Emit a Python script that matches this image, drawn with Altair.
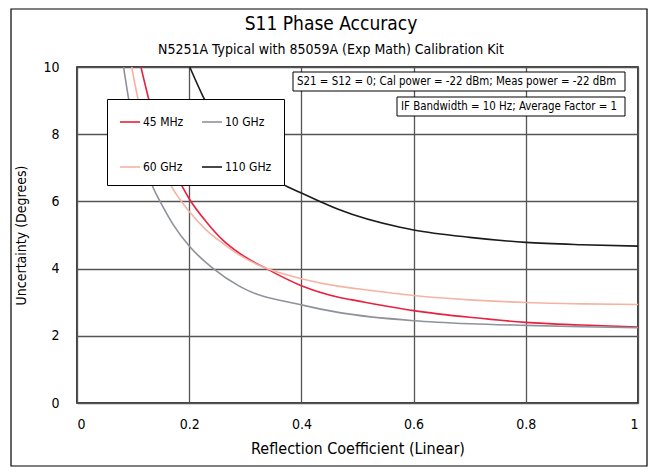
import altair as alt
import pandas as pd

# ---- data ----
series_names = ["45 MHz", "60 GHz", "10 GHz", "110 GHz"]
series_colors = ["#e8213f", "#f6b3a3", "#8e9299", "#1b1b1b"]

x_45mhz = [0.114, 0.127, 0.189, 0.20, 0.231, 0.2605, 0.29, 0.3376, 0.40, 0.468, 0.50, 0.60, 0.70, 0.80, 0.90, 1.00]
y_45mhz = [10.0, 9.1, 6.40, 6.08, 5.38, 4.84, 4.45, 4.0, 3.49, 3.14, 3.04, 2.75, 2.55, 2.40, 2.32, 2.26]

x_10ghz = [0.083, 0.0915, 0.136, 0.148, 0.1715, 0.20, 0.243, 0.29, 0.40, 0.468, 0.60, 0.70, 0.80, 0.90, 1.00]
y_10ghz = [10.0, 9.1, 6.40, 6.0, 5.31, 4.67, 4.0, 3.47, 2.92, 2.69, 2.45, 2.36, 2.31, 2.27, 2.24]

x_60ghz = [0.0975, 0.108, 0.17, 0.20, 0.231, 0.26, 0.29, 0.32, 0.40, 0.468, 0.50, 0.60, 0.70, 0.80, 0.90, 1.00]
y_60ghz = [10.0, 9.1, 6.40, 5.70, 5.14, 4.75, 4.40, 4.13, 3.70, 3.47, 3.40, 3.20, 3.07, 2.99, 2.95, 2.93]

x_110ghz = [0.201, 0.225, 0.365, 0.40, 0.433, 0.468, 0.576, 0.60, 0.70, 0.80, 0.90, 1.00]
y_110ghz = [10.0, 9.11, 6.53, 6.25, 6.0, 5.75, 5.23, 5.15, 4.93, 4.78, 4.71, 4.67]

x_ticks = [0, 0.2, 0.4, 0.6, 0.8, 1]
y_ticks = [0, 2, 4, 6, 8, 10]

title_text = "S11 Phase Accuracy"
subtitle_text = "N5251A Typical with 85059A (Exp Math) Calibration Kit"
note1 = "S21 = S12 = 0; Cal power = -22 dBm; Meas power = -22 dBm"
note2 = "IF Bandwidth = 10 Hz; Average Factor = 1"

FONT = "Liberation Sans Narrow, DejaVu Sans Condensed, Arial Narrow, sans-serif"

rows = []
for name, xs, ys in [("45 MHz", x_45mhz, y_45mhz), ("10 GHz", x_10ghz, y_10ghz),
                     ("60 GHz", x_60ghz, y_60ghz), ("110 GHz", x_110ghz, y_110ghz)]:
    for i, (a, b) in enumerate(zip(xs, ys)):
        rows.append({"series": name, "x": a, "y": b, "order": i})
df = pd.DataFrame(rows)

W, H = 561, 336

lines = alt.Chart(df).mark_line(strokeWidth=1.6, interpolate="monotone").encode(
    x=alt.X("x:Q", scale=alt.Scale(domain=[0, 1], nice=False),
            axis=alt.Axis(values=x_ticks, format="~g", title="Reflection Coefficient (Linear)",
                          grid=True, ticks=False, domain=False, labelPadding=14, titlePadding=9,
                          titleFontSize=16)),
    y=alt.Y("y:Q", scale=alt.Scale(domain=[0, 10], nice=False),
            axis=alt.Axis(values=y_ticks, format="d", title="Uncertainty (Degrees)",
                          grid=True, ticks=False, domain=False, labelPadding=18, titlePadding=14,
                          titleFontSize=14)),
    color=alt.Color("series:N", scale=alt.Scale(domain=series_names, range=series_colors),
                    sort=series_names,
                    legend=alt.Legend(title=None, orient="none", legendX=30, legendY=32,
                                      columns=2, columnPadding=14, rowPadding=28, padding=12,
                                      symbolType="stroke", symbolSize=400, symbolStrokeWidth=1.6,
                                      labelFontSize=12, labelFont=FONT, labelOffset=2,
                                      fillColor="white", strokeColor="black")),
    detail="series:N",
    order="order:Q",
)

box1 = alt.Chart().mark_rect(fill="white", stroke="black", strokeWidth=1).encode(
    x=alt.value(216), x2=alt.value(548), y=alt.value(5), y2=alt.value(24))
text1 = alt.Chart().mark_text(align="left", baseline="middle", fontSize=11.4, font=FONT, color="black").encode(
    x=alt.value(220), y=alt.value(14.5), text=alt.value(note1))
box2 = alt.Chart().mark_rect(fill="white", stroke="black", strokeWidth=1).encode(
    x=alt.value(320), x2=alt.value(548), y=alt.value(30), y2=alt.value(49))
text2 = alt.Chart().mark_text(align="left", baseline="middle", fontSize=11.4, font=FONT, color="black").encode(
    x=alt.value(324), y=alt.value(39.5), text=alt.value(note2))
frame = alt.Chart().mark_rect(fill="white", fillOpacity=0, stroke="black", strokeWidth=1.2).encode(
    x=alt.value(-66), x2=alt.value(570), y=alt.value(-58), y2=alt.value(399))
title_mark = alt.Chart().mark_text(align="center", baseline="middle", fontSize=19, font=FONT, color="black").encode(
    x=alt.value(254), y=alt.value(-43), text=alt.value(title_text))
subtitle_mark = alt.Chart().mark_text(align="center", baseline="middle", fontSize=14, font=FONT, color="black").encode(
    x=alt.value(254), y=alt.value(-17), text=alt.value(subtitle_text))

chart = alt.layer(lines, box1, text1, box2, text2, frame, title_mark, subtitle_mark).properties(
    width=W, height=H,
    autosize=alt.AutoSizeParams(type="none"),
    padding={"left": 69, "top": 59, "right": 11, "bottom": 64},
).configure_view(stroke="black", strokeWidth=1.5).configure_axis(
    labelFont=FONT, titleFont=FONT, labelFontSize=14, titleFontWeight="normal",
    labelColor="black", titleColor="black", gridColor="#555555", gridWidth=1.3, gridOpacity=1
)

chart.save("out.html", embed_options={"renderer": "svg", "actions": False})
